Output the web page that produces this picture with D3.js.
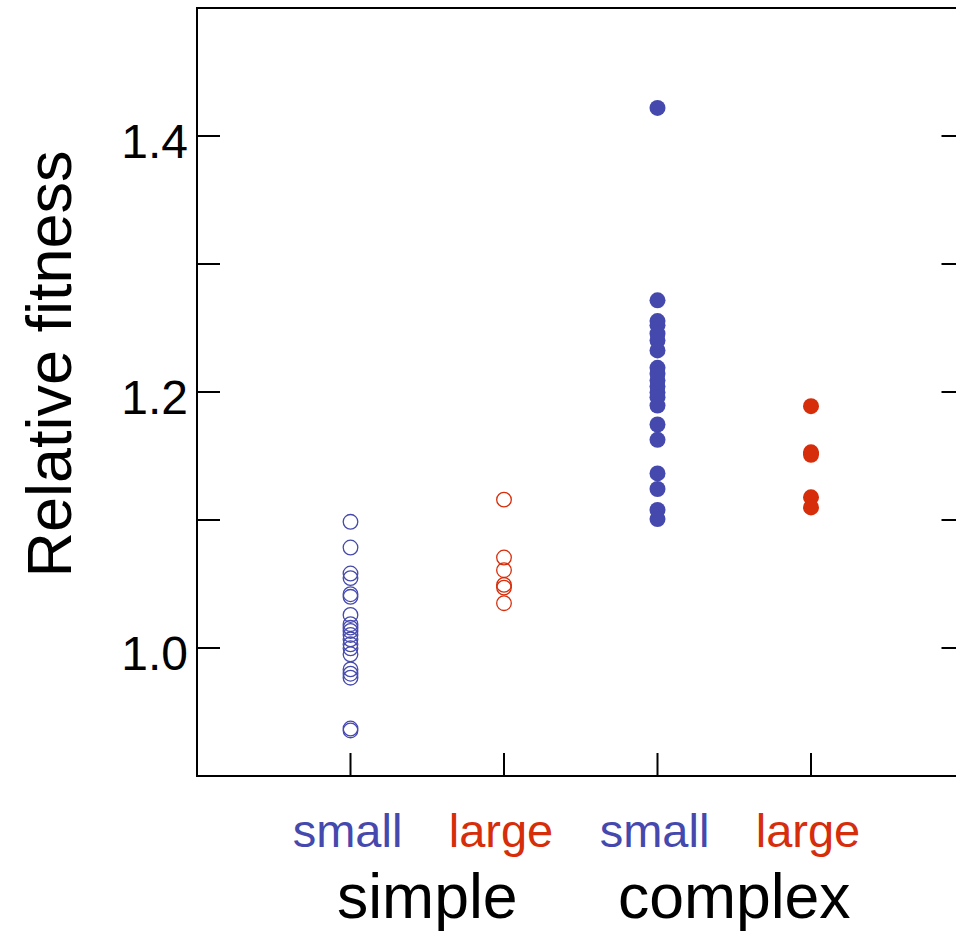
<!DOCTYPE html>
<html><head><meta charset="utf-8">
<script src="https://cdn.jsdelivr.net/npm/d3@7"></script>
<style>body{margin:0;background:#fff}svg{display:block;font-family:"Liberation Sans",Arial,sans-serif}</style>
</head><body>
<script>
const groups = ["small","large","small","large"];
const sizes = ["simple","complex"];
const simpleSmall = [1.0986,1.0785,1.0582,1.0546,1.042,1.040,1.0258,1.0186,1.0159,1.0133,1.0102,1.0068,1.0029,0.9998,0.9951,0.9833,0.9799,0.9768,0.9371,0.9356];
const simpleLarge = [1.1159,1.0707,1.0608,1.0493,1.0472,1.035];
const complexSmall = [1.4219,1.2716,1.2554,1.2521,1.2456,1.2403,1.2325,1.2189,1.2142,1.209,1.2043,1.1996,1.1959,1.1894,1.1746,1.1626,1.1364,1.1242,1.1078,1.1007];
const complexLarge = [1.1889,1.1529,1.151,1.1177,1.1098];
const yTicks = [1.0,1.1,1.2,1.3,1.4];
const yLabels = [1.0,1.2,1.4];

const blue = "#4549ad", red = "#d62d0a";
const W = 956, H = 933;
const svg = d3.select("body").append("svg").attr("width", W).attr("height", H);
const x = d3.scaleLinear().domain([0,5]).range([197, 964.5]);
const y = d3.scaleLinear().domain([0.9,1.5]).range([776, 8]);

// frame
svg.append("rect").attr("x",197).attr("y",8).attr("width",964.5-197).attr("height",768)
  .attr("fill","none").attr("stroke","#000").attr("stroke-width",2);

const tl = 23;
const g = svg.append("g").attr("stroke","#000").attr("stroke-width",2);
yTicks.forEach(t => {
  g.append("line").attr("x1",197).attr("x2",197+tl).attr("y1",y(t)).attr("y2",y(t));
  g.append("line").attr("x1",964.5-tl).attr("x2",964.5).attr("y1",y(t)).attr("y2",y(t));
});
[1,2,3,4].forEach(c => {
  g.append("line").attr("x1",x(c)).attr("x2",x(c)).attr("y1",776).attr("y2",776-tl);
});

yLabels.forEach(t => {
  svg.append("text").attr("x",188).attr("y",y(t)+22).attr("text-anchor","end")
    .attr("font-size",48).text(d3.format(".1f")(t));
});

svg.append("text").attr("transform","translate(71,364) rotate(-90)").attr("text-anchor","middle")
  .attr("font-size",63).text("Relative fitness");

const series = [
  {pos:1, vals:simpleSmall, color:blue, filled:false},
  {pos:2, vals:simpleLarge, color:red, filled:false},
  {pos:3, vals:complexSmall, color:blue, filled:true},
  {pos:4, vals:complexLarge, color:red, filled:true}
];
series.forEach(s => {
  svg.append("g").selectAll("circle").data(s.vals).join("circle")
    .attr("cx", x(s.pos)).attr("cy", d => y(d))
    .attr("r", s.filled ? 8 : 7.3)
    .attr("fill", s.filled ? s.color : "none")
    .attr("stroke", s.color).attr("stroke-width", s.filled ? 0 : 1.3);
});

groups.forEach((gname,i) => {
  svg.append("text").attr("x", x(i+1)-3).attr("y", 847).attr("text-anchor","middle")
    .attr("font-size",47).attr("fill", i%2===0 ? blue : red).text(gname);
});
sizes.forEach((s,i) => {
  svg.append("text").attr("x", (x(2*i+1)+x(2*i+2))/2).attr("y", 918).attr("text-anchor","middle")
    .attr("font-size",62.5).attr("fill","#000").text(s);
});
</script>
</body></html>
